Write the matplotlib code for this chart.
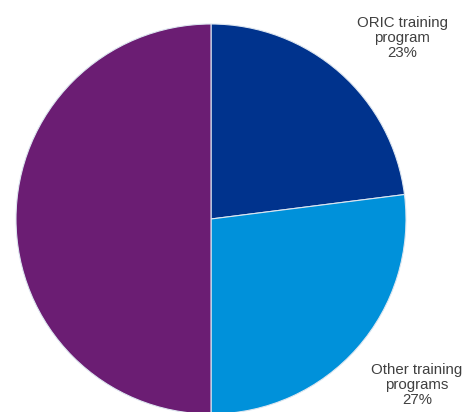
import matplotlib.pyplot as plt

categories = ["ORIC training\nprogram", "Other training\nprograms", "No training"]
shares = [23, 27, 50]
colors = ["#00338d", "#0091da", "#6b1d73"]

fig = plt.figure(figsize=(4.65, 4.12), dpi=100)
ax = fig.add_axes([0, 0, 1, 1])

wedges, _ = ax.pie(shares, colors=colors, startangle=90, counterclock=False,
                   center=(211, 193), radius=195,
                   wedgeprops=dict(edgecolor="#dde6f0", linewidth=0.8))
ax.set_xlim(0, 465)
ax.set_ylim(0, 412)
ax.set_aspect("equal")
ax.axis("off")

# labels sit outside the pie, the third one falls below the picture
label_pos = [(402, 374), (417, 27)]
for (x, y), name, v in zip(label_pos, categories, shares):
    ax.text(x, y, f"{name}\n{v}%", ha="center", va="center", fontsize=10.8,
            color="#404040", family="Liberation Sans", linespacing=1.05)

fig.savefig("out.png", dpi=100)
